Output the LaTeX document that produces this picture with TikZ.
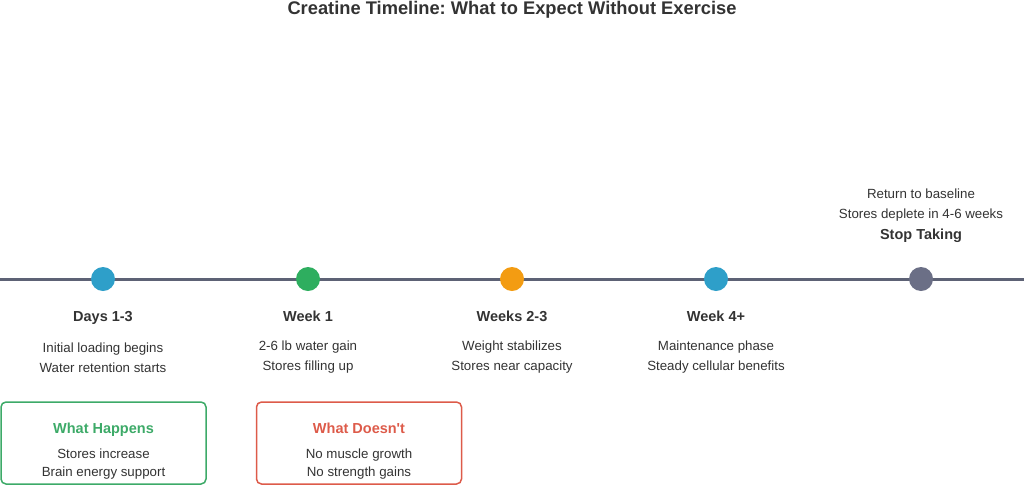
\documentclass[tikz,border=0pt]{standalone}
\usepackage{fontspec}
\setmainfont{Liberation Sans}
\frenchspacing
\definecolor{txt}{HTML}{333333}
\definecolor{axis}{HTML}{5D6275}
\definecolor{cblue}{HTML}{2E9FC9}
\definecolor{cgreen}{HTML}{2EAE5F}
\definecolor{corange}{HTML}{F39C12}
\definecolor{cgray}{HTML}{6B6F86}
\definecolor{bgreen}{HTML}{3DAA68}
\definecolor{bred}{HTML}{DD5B4A}
\begin{document}
\begin{tikzpicture}[x=1pt,y=-1pt,
  dot/.style={circle,minimum size=24pt,inner sep=0pt},
  head/.style={font=\fontsize{14.5}{16}\selectfont\bfseries,text=txt,inner sep=0pt,anchor=base},
  body/.style={font=\fontsize{13.3}{20}\selectfont,text=txt,align=center,inner sep=0pt},
  panel/.style={draw,line width=1.5pt,rounded corners=5pt,minimum width=205pt,minimum height=82pt,inner sep=0pt}]
\useasboundingbox (0,0) rectangle (1024,485);
\node[font=\fontsize{18.3}{20}\selectfont\bfseries,text=txt,inner sep=0pt] (title) at (512,9.5) {Creatine Timeline: What to Expect Without Exercise};
\coordinate (L) at (0,279);
\coordinate (R) at (1024,279);
\draw[axis,line width=3pt] (L) -- (R);
\node[dot,fill=cblue] (d1) at (103,279) {};
\node[dot,fill=cgreen] (d2) at (308,279) {};
\node[dot,fill=corange] (d3) at (512,279) {};
\node[dot,fill=cblue] (d4) at (716,279) {};
\node[dot,fill=cgray] (d5) at (921,279) {};
\node[head] (h1) at (103,321.5) {Days 1-3};
\node[head] (h2) at (308,321.5) {Week 1};
\node[head] (h3) at (512,321.5) {Weeks 2-3};
\node[head] (h4) at (716,321.5) {Week 4+};
\node[head] (h5) at (921,239.5) {Stop Taking};
\node[body] (b1) at (103,357.5) {Initial loading begins\\Water retention starts};
\node[body] (b2) at (308,357.5) {2-6 lb water gain\\Stores filling up};
\node[body] (b3) at (512,357.5) {Weight stabilizes\\Stores near capacity};
\node[body] (b4) at (716,357.5) {Maintenance phase\\Steady cellular benefits};
\node[body] (b5) at (921,205) {Return to baseline\\Stores deplete in 4-6 weeks};
\node[panel,draw=bgreen] (p1) at (103.5,443) {};
\node[panel,draw=bred] (p2) at (359,443) {};
\node[head,text=bgreen] (p1h) at (103.5,433) {What Happens};
\node[head,text=bred] (p2h) at (359,433) {What Doesn\textquotesingle t};
\node[body,font=\fontsize{13.3}{18}\selectfont] (p1b) at (103.5,464) {Stores increase\\Brain energy support};
\node[body,font=\fontsize{13.3}{18}\selectfont] (p2b) at (359,464) {No muscle growth\\No strength gains};
\end{tikzpicture}
\end{document}
